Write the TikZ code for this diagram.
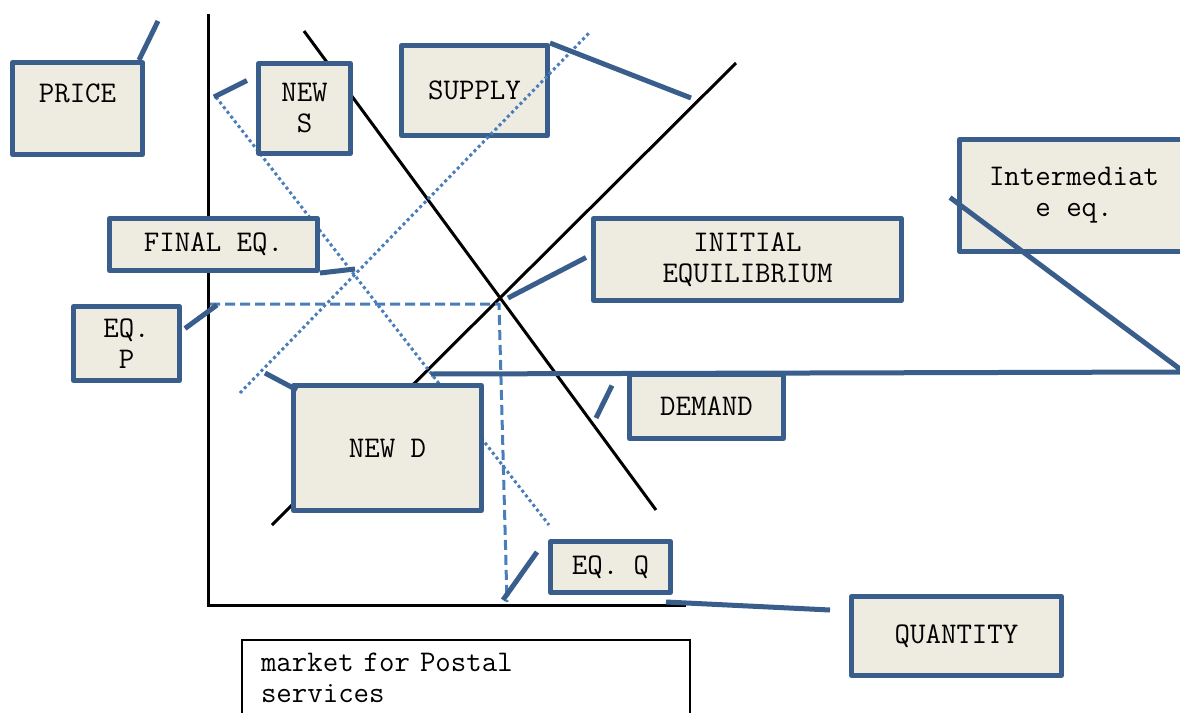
\documentclass[tikz,border=0pt]{standalone}
\usepackage{tikz}
\usetikzlibrary{calc}
\definecolor{boxblue}{HTML}{3A5E8C}
\definecolor{boxfill}{HTML}{EEECE1}
\definecolor{lineblue}{HTML}{4A7EBB}

\begin{document}
\begin{tikzpicture}[x=0.5pt, y=-0.5pt]
\tikzstyle{callbox}=[draw=boxblue, fill=boxfill, line width=2.5pt, line join=round, inner sep=0pt, align=center, font=\ttfamily\fontsize{15}{15.5}\selectfont]
\tikzstyle{callline}=[draw=boxblue, line width=2.5pt]
\tikzstyle{curve}=[black, line width=1.5pt]
\tikzstyle{shifted}=[draw=lineblue, line width=1.5pt, dash pattern=on 1.5pt off 1.5pt]
\tikzstyle{eqline}=[draw=lineblue, line width=1.5pt, dash pattern=on 5pt off 2.5pt]
\clip (0,0) rectangle (1180,713);

% axes and curves
\draw[curve] (208,14) -- (208,605) -- (686,605);
\draw[curve] (304,31) -- (656,510);
\draw[curve] (272,525) -- (736,63);
\draw[shifted] (216,97) -- (549,525);
\draw[eqline] (210,304) -- (499,304) -- (507,602);

% label boxes
\node[callbox, minimum width=65pt, minimum height=46pt] (price) at (77.5,108.5) {PRICE\\\mbox{}};
\node[callbox, minimum width=46pt, minimum height=45pt] (news) at (304.5,108.5) {NEW\\S};
\node[callbox, minimum width=73pt, minimum height=45pt] (supply) at (474.5,90.5) {SUPPLY};
\node[callbox, minimum width=114.5pt, minimum height=56pt] (inter) at (1074,195.5) {Intermediat\\e eq.};
\node[callbox, minimum width=104pt, minimum height=26pt] (final) at (213.5,244.5) {FINAL EQ.};
\node[callbox, minimum width=154pt, minimum height=41pt] (initial) at (747.5,259.5) {INITIAL\\EQUILIBRIUM};
\node[callbox, minimum width=53pt, minimum height=37pt] (eqp) at (126.5,343.5) {EQ.\\P};
\node[callbox, minimum width=94pt, minimum height=62.5pt] (newd) at (387.5,448) {NEW D};
\node[callbox, minimum width=77pt, minimum height=32pt] (demand) at (706.5,406.5) {DEMAND};
\node[callbox, minimum width=60pt, minimum height=25.5pt] (eqq) at (610.5,567) {EQ. Q};
\node[callbox, minimum width=105pt, minimum height=39.5pt] (quantity) at (956.5,636) {QUANTITY};

\draw[shifted] (240,393) -- (590,32);

% callout tips
\coordinate (price-tip) at (158,21);
\coordinate (news-tip) at (214,97);
\coordinate (supply-tip) at (691,98);
\coordinate (inter-bend) at (1184,372);
\coordinate (inter-tip) at (431,374);
\coordinate (final-tip) at (355,269);
\coordinate (initial-tip) at (508,298);
\coordinate (eqp-tip) at (217,305);
\coordinate (newd-tip) at (265,373);
\coordinate (demand-tip) at (596,418);
\coordinate (eqq-tip) at (503,600);
\coordinate (quantity-tip) at (666,602);

\draw[callline] ($(price.north east)+(-6,0)$) -- (price-tip);
\draw[callline] ($(news.west)+(-9,-28)$) -- (news-tip);
\draw[callline] (supply.north east) -- (supply-tip);
\draw[callline] ($(inter.west)+(-7,2)$) -- (inter-bend) -- (inter-tip);
\draw[callline] (final.south east) -- (final-tip);
\draw[callline] ($(initial.west)+(-5,-2)$) -- (initial-tip);
\draw[callline] ($(eqp.east)+(3,-15)$) -- (eqp-tip);
\draw[callline] ($(newd.north west)+(6,7)$) -- (newd-tip);
\draw[callline] ($(demand.west)+(-15,-21)$) -- (demand-tip);
\draw[callline] ($(eqq.west)+(-11,-15)$) -- (eqq-tip);
\draw[callline] ($(quantity.west)+(-19,-26)$) -- (quantity-tip);

% caption
\node[draw, line width=1pt, anchor=north west, align=left, text width=205pt, inner xsep=9.5pt, inner ysep=6.5pt, font=\ttfamily\fontsize{15}{15.5}\selectfont] (title) at (241,639) {market for Postal\\services\\[2pt]\mbox{}};

\end{tikzpicture}
\end{document}
